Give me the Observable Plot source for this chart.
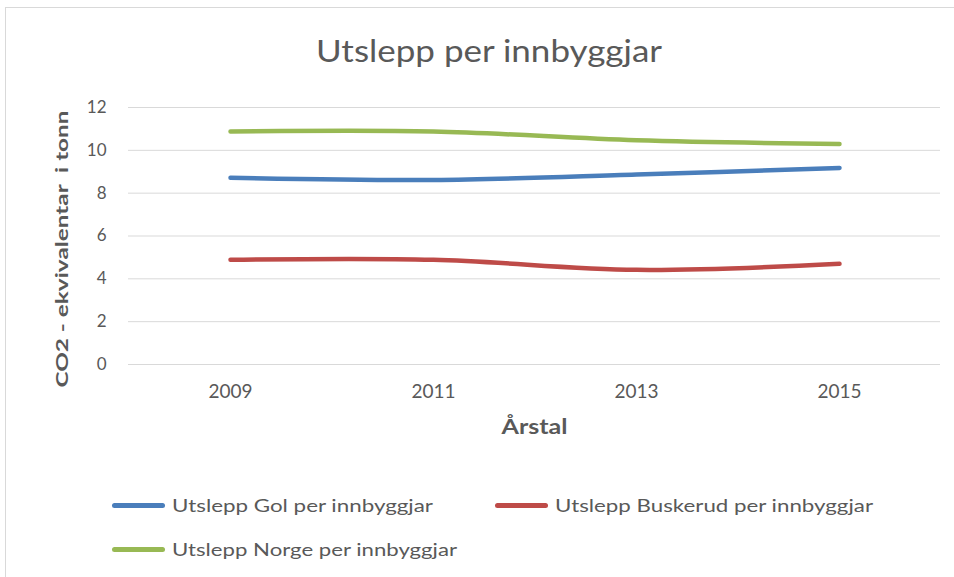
<!DOCTYPE html>
<html>
<head>
<meta charset="utf-8">
<script src="https://cdn.jsdelivr.net/npm/d3@7"></script>
<script src="https://cdn.jsdelivr.net/npm/@observablehq/plot@0.6"></script>
<style>
  body { margin: 0; background: #fff; font-family: Lato, "Open Sans", sans-serif; overflow: hidden; width: 954px; height: 577px; position: relative; }
  #frame { position: absolute; left: 5px; top: 7px; width: 960px; height: 600px; border: 1px solid #d9d9d9; box-sizing: border-box; }
  #title { position: absolute; left: 316px; top: 32px; font-size: 30px; line-height: 36px; color: #595959; white-space: nowrap; transform-origin: 0 50%; }
  #chart { position: absolute; left: 0; top: 85px; }
  .leg { position: absolute; height: 22px; display: flex; align-items: center; white-space: nowrap; }
  .leg .sw { display: inline-block; width: 53px; height: 5px; border-radius: 2.5px; }
  .leg .lt { position: absolute; top: 0; line-height: 22px; font-size: 18px; color: #595959; transform-origin: 0 50%; }
</style>
</head>
<body>
<div id="frame"></div>
<div id="title" data-w="346">Utslepp per innbyggjar</div>
<div id="chart"></div>
<div id="legend"></div>
<script>
const years = ["2009", "2011", "2013", "2015"];
const gol = [8.72, 8.62, 8.87, 9.18];
const buskerud = [4.89, 4.89, 4.42, 4.70];
const norge = [10.88, 10.88, 10.47, 10.30];
const yTicks = [0, 2, 4, 6, 8, 10, 12];
const seriesNames = ["Utslepp Gol per innbyggjar", "Utslepp Buskerud per innbyggjar", "Utslepp Norge per innbyggjar"];
const colors = ["#4a7ebb", "#be4b48", "#98b954"];

const rows = [];
[gol, buskerud, norge].forEach((vals, i) => {
  years.forEach((y, j) => rows.push({ year: y, value: vals[j], series: seriesNames[i] }));
});

const yLabel = "CO2 - ekvivalentar  i tonn";
const xLabel = "Årstal";

const chart = Plot.plot({
  width: 954,
  height: 370,
  marginLeft: 128,
  marginRight: 14,
  marginTop: 22,
  marginBottom: 91,
  style: { fontFamily: "Lato, 'Open Sans', sans-serif", color: "#595959", background: "transparent", overflow: "visible" },
  x: { type: "point", domain: years, padding: 0.5, label: null },
  y: { domain: [0, 12], ticks: yTicks, label: null },
  color: { domain: seriesNames, range: colors },
  marks: [
    Plot.gridY(yTicks, { stroke: "#d9d9d9", strokeOpacity: 1, strokeWidth: 1 }),
    Plot.axisY(yTicks, { tickSize: 0, tickPadding: 22, fontSize: 17, fill: "#595959", label: null }),
    Plot.axisX(years, { tickSize: 0, tickPadding: 20, fontSize: 19, fill: "#595959", label: null }),
    Plot.line(rows, { x: "year", y: "value", stroke: "series", z: "series", strokeWidth: 4.5, curve: "catmull-rom", strokeLinecap: "round" }),
    Plot.text([yLabel], { frameAnchor: "left", rotate: -90, dx: -66, dy: 13, textAnchor: "middle", text: d => d, fontSize: 17, fontWeight: "bold", fill: "#595959" }),
    Plot.text([xLabel], { frameAnchor: "bottom", dy: 69, text: d => d, fontSize: 20, fontWeight: "bold", fill: "#595959" })
  ]
});
document.getElementById("chart").appendChild(chart);

d3.select(chart).selectAll("text").each(function() {
  const t = this.textContent;
  if (t === yLabel) d3.select(this).attr("textLength", 277).attr("lengthAdjust", "spacingAndGlyphs");
  if (t === xLabel) d3.select(this).attr("textLength", 66).attr("lengthAdjust", "spacingAndGlyphs");
});

// legend
const legendItems = [
  { name: seriesNames[0], color: colors[0], left: 112, top: 494, textLeft: 172, w: 261 },
  { name: seriesNames[1], color: colors[1], left: 495, top: 494, textLeft: 555, w: 318 },
  { name: seriesNames[2], color: colors[2], left: 112, top: 538, textLeft: 172, w: 285 }
];
const legend = document.getElementById("legend");
legendItems.forEach(it => {
  const d = document.createElement("div");
  d.className = "leg";
  d.style.left = it.left + "px";
  d.style.top = it.top + "px";
  const sw = document.createElement("span");
  sw.className = "sw";
  sw.style.background = it.color;
  const lt = document.createElement("span");
  lt.className = "lt";
  lt.textContent = it.name;
  lt.style.left = (it.textLeft - it.left) + "px";
  lt.dataset.w = it.w;
  d.appendChild(sw);
  d.appendChild(lt);
  legend.appendChild(d);
});

function fit(el) {
  const target = +el.dataset.w;
  const w = el.getBoundingClientRect().width;
  if (w > 0) el.style.transform = `scaleX(${target / w})`;
}
fit(document.getElementById("title"));
document.querySelectorAll(".lt").forEach(fit);
</script>
</body>
</html>
